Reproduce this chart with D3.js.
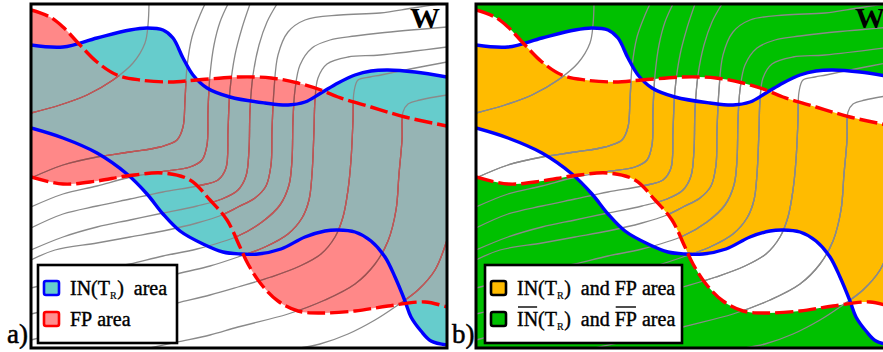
<!DOCTYPE html>
<html>
<head>
<meta charset="utf-8">
<script src="https://cdn.jsdelivr.net/npm/d3@7"></script>
<style>
  body { margin: 0; background: #fff; }
  svg { display: block; }
</style>
</head>
<body>
<svg id="fig" width="883" height="352"></svg>
<script>
// boundaries in panel units (x right, y down)
const inUpper = [[0,41],[32,43],[66,34],[99,26],[116,24],[132,26],[142,34],[152,54],[162,71],[176,84],[199,93],[234,99],[257,101],[274,98],[290,89],[307,79],[324,71],[340,67],[357,66],[384,68],[416,73]];
const inLower = [[0,124],[32,134],[66,149],[96,170],[116,190],[132,210],[149,227],[172,240],[192,248],[209,250],[227,250],[250,245],[274,233],[294,227],[307,226],[324,228],[340,237],[354,253],[364,273],[374,297],[380,313],[390,327],[400,337],[416,341]];
const fpUpper = [[0,6],[19,13],[32,23],[49,41],[66,58],[86,71],[109,76],[139,78],[166,76],[207,73],[240,74],[267,79],[290,86],[307,93],[340,103],[374,113],[416,122]];
const fpLower = [[0,173],[32,180],[66,177],[96,172],[132,169],[159,176],[179,196],[196,216],[209,243],[217,260],[230,280],[247,297],[267,307],[290,309],[324,307],[357,302],[394,298],[416,303]];

// grey flow lines
const flowLines = [
  [[0,109],[29,101],[56,91],[82,76],[102,59],[114,39],[117,21],[118,0]],
  [[0,174],[32,161],[66,153],[99,148],[129,143],[146,136],[152,123],[154,96],[156,63],[161,33],[169,11],[174,0]],
  [[0,203],[32,190],[66,182],[96,174],[129,168],[159,163],[171,156],[176,141],[177,106],[179,71],[183,41],[189,18],[197,0]],
  [[0,224],[32,210],[66,202],[99,195],[132,188],[166,182],[187,176],[195,164],[197,126],[199,86],[204,51],[211,24],[219,0]],
  [[0,246],[32,233],[66,223],[99,216],[132,209],[166,202],[191,195],[207,186],[215,172],[218,146],[219,106],[222,71],[228,41],[236,18],[246,0]],
  [[0,256],[24,246],[66,239],[99,233],[132,227],[166,219],[191,211],[207,203],[224,194],[235,182],[240,161],[241,126],[243,86],[247,51],[257,28],[274,16],[309,11],[349,9],[382,4],[416,-1]],
  [[0,284],[32,276],[66,267],[99,260],[132,252],[166,245],[207,232],[231,218],[249,201],[258,181],[261,156],[262,116],[264,86],[269,61],[281,44],[299,36],[324,32],[349,29],[416,23]],
  [[0,310],[69,293],[146,270],[179,262],[207,253],[234,243],[257,230],[271,214],[278,196],[281,170],[283,126],[284,96],[287,74],[296,60],[317,53],[349,51],[416,43]],
  [[0,336],[69,318],[146,299],[179,291],[207,283],[240,273],[269,262],[290,250],[304,233],[312,213],[317,186],[320,156],[322,116],[323,88],[327,76],[339,73],[350,71],[379,65],[416,58]],
  [[119,344],[146,338],[179,331],[207,323],[257,310],[294,296],[324,280],[344,260],[357,237],[365,206],[368,170],[371,136],[372,108],[377,100],[389,96],[416,91]],
  [[269,344],[289,340],[317,330],[344,316],[364,303],[387,286],[404,266],[416,236]]
];

const panelLabels = ["a)", "b)"];
const cornerLabel = "W";
const legendA = [
  [{t: "IN(T"}, {t: "R", sub: true}, {t: ")\u00a0\u00a0area"}],
  [{t: "FP\u00a0area"}]
];
const legendB = [
  [{t: "IN(T"}, {t: "R", sub: true}, {t: ")\u00a0\u00a0and\u00a0FP\u00a0area"}],
  [{t: "IN", over: true}, {t: "(T"}, {t: "R", sub: true}, {t: ")\u00a0\u00a0and\u00a0"}, {t: "FP", over: true}, {t: "\u00a0area"}]
];

const serif = "'Liberation Serif', Tinos, 'Times New Roman', 'DejaVu Serif', serif";
const W = 416, H = 344;
const svg = d3.select("#fig").attr("font-family", serif);
const defs = svg.append("defs");

const panels = [
  {key: "a", left: 31, top: 4, label: panelLabels[0], legend: legendA, legendW: 139,
   bg: "#ffffff", inFill: "#66CCCC", fpFill: "#FF8888", both: "#96B4B4",
   flow: "#8a8a8a", flowFp: "#A44C4C", flowBoth: "#C45656",
   swatches: [{fill: "#66CCCC", stroke: "#0000FF"}, {fill: "#FF8E8E", stroke: "#FF0000"}]},
  {key: "b", left: 476, top: 4, label: panelLabels[1], legend: legendB, legendW: 197,
   bg: "#00C000", inFill: "#ffffff", fpFill: "#ffffff", both: "#FFBB00",
   flow: "#8a8a8a", flowFp: "#8a8a8a", flowBoth: "#8a8a8a",
   swatches: [{fill: "#FFBB00", stroke: "#000"}, {fill: "#00C000", stroke: "#000"}]}
];

function richText(g, x0, base, parts) {
  let cx = x0;
  parts.forEach(pt => {
    const t = g.append("text")
      .attr("x", cx)
      .attr("y", base + (pt.sub ? 4 : 0))
      .attr("font-family", serif)
      .attr("font-size", pt.sub ? 10 : 20)
      .attr("fill", "#000").attr("stroke", "#000").attr("stroke-width", pt.sub ? 0.2 : 0.4)
      .text(pt.t);
    const w = t.node().getComputedTextLength();
    if (pt.over) {
      g.append("line")
        .attr("x1", cx + 1).attr("x2", cx + w - 1)
        .attr("y1", base - 19).attr("y2", base - 19)
        .attr("stroke", "#000").attr("stroke-width", 1.4);
    }
    cx += w + (pt.sub ? 0.5 : 0);
  });
}

panels.forEach(p => {
  const x = d3.scaleLinear().domain([0, W]).range([p.left, p.left + W]);
  const y = d3.scaleLinear().domain([0, H]).range([p.top, p.top + H]);
  const line = d3.line().x(d => x(d[0])).y(d => y(d[1])).curve(d3.curveCatmullRom.alpha(0.5));
  const region = (a, b) => line(a) + line(b.slice().reverse()).replace(/^M/, "L") + "Z";
  const id = s => p.key + "-" + s;
  const url = s => `url(#${id(s)})`;

  defs.append("clipPath").attr("id", id("frame")).append("rect")
    .attr("x", x(0)).attr("y", y(0)).attr("width", W).attr("height", H);
  defs.append("clipPath").attr("id", id("in")).append("path").attr("d", region(inUpper, inLower));
  defs.append("clipPath").attr("id", id("fp")).append("path").attr("d", region(fpUpper, fpLower));

  const g = svg.append("g").attr("clip-path", url("frame"));
  g.append("rect").attr("x", x(0)).attr("y", y(0)).attr("width", W).attr("height", H).attr("fill", p.bg);
  g.append("path").attr("d", region(inUpper, inLower)).attr("fill", p.inFill);
  g.append("path").attr("d", region(fpUpper, fpLower)).attr("fill", p.fpFill);
  g.append("g").attr("clip-path", url("in"))
    .append("path").attr("d", region(fpUpper, fpLower)).attr("fill", p.both);

  const drawFlow = (sel, color) => sel.selectAll("path").data(flowLines).join("path")
    .attr("d", line).attr("fill", "none").attr("stroke", color).attr("stroke-width", 1.3);
  drawFlow(g.append("g"), p.flow);
  drawFlow(g.append("g").attr("clip-path", url("fp")), p.flowFp);
  drawFlow(g.append("g").attr("clip-path", url("fp")).append("g").attr("clip-path", url("in")), p.flowBoth);

  [inUpper, inLower].forEach(b => g.append("path").attr("d", line(b))
    .attr("fill", "none").attr("stroke", "#0000FF").attr("stroke-width", 3.4));
  [fpUpper, fpLower].forEach(b => g.append("path").attr("d", line(b))
    .attr("fill", "none").attr("stroke", "#FF0000").attr("stroke-width", 3.4)
    .attr("stroke-dasharray", "18,5"));

  svg.append("rect").attr("x", x(0)).attr("y", y(0)).attr("width", W).attr("height", H)
    .attr("fill", "none").attr("stroke", "#000").attr("stroke-width", 3);

  svg.append("text").attr("x", x(W) - 7).attr("y", y(24)).attr("text-anchor", "end")
    .attr("font-family", serif).attr("font-size", 30).attr("font-weight", "bold").text(cornerLabel);

  svg.append("text").attr("x", p.left - 24).attr("y", 343)
    .attr("font-family", serif).attr("font-size", 27)
    .attr("stroke", "#000").attr("stroke-width", 0.5).text(p.label);

  // legend
  const lx = x(0) + (p.key === "a" ? 7 : 9), ly = y(261);
  const lg = svg.append("g");
  lg.append("rect").attr("x", lx).attr("y", ly).attr("width", p.legendW).attr("height", 78)
    .attr("fill", "#fff").attr("stroke", "#000").attr("stroke-width", 2.6);
  p.legend.forEach((parts, i) => {
    const base = 295 + i * 31;
    const sw = p.swatches[i];
    lg.append("rect").attr("x", lx + 6).attr("y", base - 14).attr("width", 15).attr("height", 14)
      .attr("rx", 2).attr("fill", sw.fill).attr("stroke", sw.stroke).attr("stroke-width", 2.6);
    richText(lg, lx + 32, base, parts);
  });
});
</script>
</body>
</html>
